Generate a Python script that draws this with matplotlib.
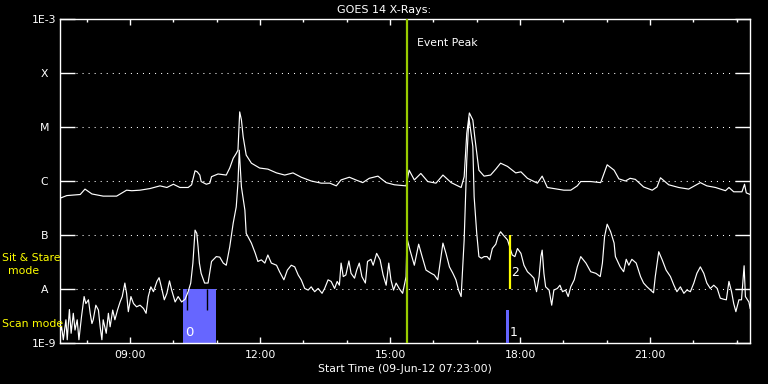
import matplotlib
matplotlib.use("Agg")
import matplotlib.pyplot as plt
import numpy as np
from matplotlib.ticker import NullLocator

# ---------------- data ----------------
t_start = 7 + 23 / 60          # 07:23
t_end = 23.306

# GOES long channel (1-8 A), time in decimal hours, log10 flux (W/m^2)
long_t = [7.38, 7.54, 7.85, 7.96, 8.12, 8.38, 8.69, 8.92, 9.04, 9.23,
          9.46, 9.69, 9.85, 10.00, 10.15, 10.34, 10.42, 10.50, 10.55, 10.61,
          10.64, 10.76, 10.84, 10.88, 11.03, 11.22, 11.30, 11.38, 11.45, 11.49,
          11.53, 11.57, 11.61, 11.68, 11.80, 11.99, 12.18, 12.38, 12.57, 12.76,
          12.95, 13.18, 13.41, 13.61, 13.76, 13.87, 14.06, 14.21, 14.37, 14.52,
          14.72, 14.91, 15.10, 15.37, 15.44, 15.56, 15.71, 15.87, 16.06, 16.22,
          16.41, 16.64, 16.71, 16.77, 16.83, 16.91, 16.96, 17.05, 17.17, 17.32,
          17.44, 17.55, 17.71, 17.90, 18.02, 18.17, 18.40, 18.51, 18.63, 18.78,
          19.01, 19.17, 19.32, 19.40, 19.63, 19.86, 20.01, 20.17, 20.28, 20.43,
          20.54, 20.66, 20.85, 21.05, 21.16, 21.24, 21.43, 21.66, 21.89, 22.16,
          22.31, 22.51, 22.74, 22.82, 22.93, 23.12, 23.18, 23.22, 23.31]
long_log = [-6.32, -6.27, -6.25, -6.15, -6.24, -6.28, -6.28, -6.17, -6.18, -6.17,
            -6.14, -6.09, -6.12, -6.06, -6.12, -6.12, -6.07, -5.81, -5.83, -5.89,
            -6.01, -6.06, -6.04, -5.92, -5.87, -5.89, -5.76, -5.58, -5.49, -5.43,
            -4.72, -4.87, -5.18, -5.52, -5.67, -5.76, -5.78, -5.85, -5.89, -5.85,
            -5.93, -6.00, -6.04, -6.04, -6.09, -5.98, -5.93, -5.98, -6.03, -5.95,
            -5.91, -6.03, -6.07, -6.09, -5.80, -5.98, -5.86, -6.01, -6.04, -5.89,
            -6.03, -6.12, -5.92, -5.12, -4.74, -4.87, -5.22, -5.80, -5.91, -5.89,
            -5.78, -5.67, -5.73, -5.85, -5.83, -5.95, -6.04, -5.91, -6.12, -6.14,
            -6.17, -6.17, -6.09, -6.01, -6.01, -6.03, -5.70, -5.80, -5.96, -6.00,
            -5.95, -5.97, -6.11, -6.17, -6.11, -5.94, -6.07, -6.12, -6.15, -6.03,
            -6.09, -6.12, -6.18, -6.12, -6.20, -6.20, -6.06, -6.22, -6.25]

# GOES short channel (0.5-4 A)
short_t = [7.38, 7.42, 7.46, 7.52, 7.55, 7.60, 7.64, 7.69, 7.73, 7.78,
           7.82, 7.88, 7.94, 7.98, 8.04, 8.08, 8.12, 8.15, 8.21, 8.27,
           8.31, 8.35, 8.38, 8.45, 8.50, 8.54, 8.60, 8.65, 8.71, 8.77,
           8.82, 8.88, 8.92, 8.96, 9.02, 9.08, 9.15, 9.23, 9.31, 9.37,
           9.42, 9.48, 9.54, 9.62, 9.67, 9.73, 9.79, 9.85, 9.91, 9.96,
           10.04, 10.11, 10.19, 10.27, 10.34, 10.40, 10.45, 10.50, 10.54, 10.57,
           10.60, 10.64, 10.72, 10.80, 10.88, 10.99, 11.07, 11.15, 11.22, 11.30,
           11.38, 11.45, 11.49, 11.52, 11.57, 11.65, 11.68, 11.80, 11.89, 11.95,
           12.03, 12.11, 12.18, 12.26, 12.38, 12.45, 12.55, 12.63, 12.72, 12.80,
           12.88, 12.95, 13.03, 13.11, 13.18, 13.26, 13.34, 13.43, 13.49, 13.57,
           13.64, 13.72, 13.78, 13.83, 13.87, 13.92, 13.98, 14.05, 14.10, 14.18,
           14.23, 14.29, 14.35, 14.43, 14.48, 14.56, 14.61, 14.69, 14.77, 14.84,
           14.91, 14.97, 15.02, 15.08, 15.14, 15.21, 15.29, 15.37, 15.39, 15.46,
           15.56, 15.66, 15.74, 15.83, 15.95, 16.02, 16.10, 16.22, 16.29, 16.37,
           16.45, 16.52, 16.58, 16.64, 16.71, 16.77, 16.82, 16.91, 16.94, 17.00,
           17.05, 17.11, 17.17, 17.24, 17.30, 17.36, 17.44, 17.49, 17.55, 17.61,
           17.71, 17.82, 17.88, 17.94, 18.02, 18.09, 18.17, 18.25, 18.32, 18.38,
           18.44, 18.48, 18.51, 18.55, 18.59, 18.67, 18.73, 18.78, 18.86, 18.92,
           18.98, 19.05, 19.11, 19.17, 19.25, 19.32, 19.40, 19.52, 19.63, 19.75,
           19.85, 19.90, 19.95, 20.01, 20.09, 20.17, 20.20, 20.31, 20.39, 20.45,
           20.51, 20.58, 20.68, 20.78, 20.85, 20.93, 21.01, 21.08, 21.12, 21.20,
           21.28, 21.37, 21.47, 21.55, 21.62, 21.70, 21.78, 21.85, 21.93, 22.01,
           22.08, 22.16, 22.24, 22.31, 22.39, 22.47, 22.55, 22.62, 22.70, 22.76,
           22.82, 22.88, 22.93, 22.98, 23.05, 23.11, 23.17, 23.20, 23.28, 23.31]
short_log = [-8.82, -8.70, -8.94, -8.57, -8.94, -8.38, -8.82, -8.45, -8.76, -8.57,
             -8.94, -8.51, -8.14, -8.27, -8.20, -8.45, -8.64, -8.57, -8.30, -8.39,
             -8.70, -8.94, -8.57, -8.82, -8.45, -8.70, -8.39, -8.57, -8.39, -8.24,
             -8.14, -7.89, -8.08, -8.42, -8.14, -8.27, -8.33, -8.30, -8.36, -8.45,
             -8.14, -7.96, -8.05, -7.86, -7.79, -7.99, -8.20, -8.08, -7.85, -8.02,
             -8.24, -8.14, -8.24, -8.19, -8.05, -7.89, -7.52, -6.91, -6.97, -7.22,
             -7.52, -7.71, -7.89, -7.89, -7.49, -7.40, -7.41, -7.52, -7.56, -7.22,
             -6.78, -6.48, -6.04, -5.43, -6.11, -6.54, -6.97, -7.15, -7.34, -7.49,
             -7.46, -7.52, -7.37, -7.52, -7.56, -7.68, -7.83, -7.65, -7.56, -7.59,
             -7.74, -7.83, -7.99, -8.02, -7.96, -8.05, -7.99, -8.08, -7.99, -7.83,
             -7.86, -7.99, -7.86, -7.93, -7.52, -7.77, -7.74, -7.48, -7.71, -7.80,
             -7.65, -7.52, -7.77, -7.89, -7.49, -7.45, -7.56, -7.34, -7.46, -7.74,
             -7.93, -7.52, -7.83, -8.02, -7.89, -7.99, -8.08, -7.77, -7.06, -7.28,
             -7.56, -7.17, -7.40, -7.65, -7.71, -7.74, -7.83, -7.15, -7.34, -7.59,
             -7.71, -7.83, -8.02, -8.14, -7.09, -5.61, -4.83, -5.36, -6.29, -6.97,
             -7.40, -7.43, -7.40, -7.40, -7.46, -7.25, -7.17, -7.03, -6.94, -7.00,
             -7.09, -7.37, -7.40, -7.25, -7.34, -7.56, -7.68, -7.74, -7.80, -8.05,
             -7.77, -7.40, -7.28, -7.71, -7.96, -8.02, -8.30, -8.02, -7.99, -7.93,
             -8.05, -8.02, -8.14, -7.96, -7.83, -7.59, -7.40, -7.52, -7.68, -7.71,
             -7.77, -7.52, -7.03, -6.80, -6.94, -7.15, -7.40, -7.59, -7.68, -7.45,
             -7.56, -7.45, -7.52, -7.77, -7.89, -7.96, -8.02, -8.07, -7.77, -7.31,
             -7.46, -7.65, -7.77, -7.93, -8.05, -7.96, -8.08, -8.02, -8.05, -7.89,
             -7.71, -7.59, -7.71, -7.89, -7.99, -7.93, -7.99, -8.17, -8.19, -8.20,
             -7.86, -8.05, -8.27, -8.42, -8.20, -8.20, -7.57, -8.14, -8.24, -8.36]

level_values = [1e-9, 1e-8, 1e-7, 1e-6, 1e-5, 1e-4, 1e-3]
level_labels = ["1E-9", "A", "B", "C", "M", "X", "1E-3"]
grid_levels = [1e-8, 1e-7, 1e-6, 1e-5, 1e-4]
x_major = [9, 12, 15, 18, 21]
x_major_labels = ["09:00", "12:00", "15:00", "18:00", "21:00"]
x_minor = list(range(8, 24))

event_peak_t = 15.39
scan0_start, scan0_end = 10.22, 10.98
scan0_marks = [10.32, 10.78]
scan1_t = 17.71
stare2_t = 17.77

# ---------------- figure ----------------
W, H = 768, 384
fig = plt.figure(figsize=(W / 100, H / 100), dpi=100, facecolor="black")
ax = fig.add_axes([60 / W, 41 / H, 690 / W, 324 / H])
ax.set_facecolor("black")
ax.set_yscale("log")
ax.set_xlim(t_start, t_end)
ax.set_ylim(1e-9, 1e-3)

for s in ax.spines.values():
    s.set_color("white")
    s.set_linewidth(1.0)

# dotted level lines
ax.hlines(grid_levels, 7.75, 22.95, colors="white", linewidth=0.75,
          linestyles=(0, (1, 4.8)), zorder=1)

# scan-mode block 0
ax.bar(scan0_start, 1e-8 - 1e-9, width=scan0_end - scan0_start, bottom=1e-9,
       align="edge", color="#6666ff", linewidth=0, zorder=2)
ax.vlines(scan0_marks, 1e-8, 10 ** -8.39, colors="black", linewidth=1.0, zorder=3)
ax.text(scan0_start + 0.05, 10 ** -8.8, "0", color="white", fontsize=9.5,
        ha="left", va="center", zorder=4)

# curves
ax.plot(long_t, 10 ** np.array(long_log), color="white", linewidth=0.85, zorder=5)
ax.plot(short_t, 10 ** np.array(short_log), color="white", linewidth=0.85, zorder=5)

# event peak
ax.axvline(event_peak_t, color="#99cc00", linewidth=1.6, zorder=6)
ax.text(event_peak_t + 0.23, 10 ** -3.44, "Event Peak", color="white",
        fontsize=7.8, ha="left", va="center")

# scan 1 / stare 2
ax.bar(scan1_t - 0.03, 1e-9 * (10 ** 0.61) - 1e-9, width=0.06, bottom=1e-9,
       align="edge", color="#6666ff", linewidth=0, zorder=6)
ax.text(scan1_t + 0.05, 10 ** -8.8, "1", color="white", fontsize=9,
        ha="left", va="center", zorder=7)
ax.vlines(stare2_t, 1e-8, 1e-7, colors="yellow", linewidth=1.6, zorder=6)
ax.text(stare2_t + 0.03, 10 ** -7.69, "2", color="white", fontsize=9,
        ha="left", va="center", zorder=7)

# ticks
ax.set_yticks(level_values)
ax.set_yticklabels(level_labels)
ax.yaxis.set_minor_locator(NullLocator())
ax.tick_params(axis="y", which="major", direction="in", length=10.8, width=1.0,
               left=True, right=True, color="white", labelcolor="white",
               labelsize=7.8, pad=11.2)
for lbl in ax.get_yticklabels():
    lbl.set_horizontalalignment("center")

ax.set_xticks(x_major)
ax.set_xticklabels(x_major_labels)
ax.set_xticks(x_minor, minor=True)
ax.tick_params(axis="x", which="major", direction="in", length=4.3, width=1.0,
               top=True, bottom=True, color="white", labelcolor="white",
               labelsize=7.8, pad=5)
ax.tick_params(axis="x", which="minor", direction="in", length=2.2, width=1.0,
               top=True, bottom=True, color="white")

# titles & side labels
fig.text(0.5, 1 - 10 / H, "GOES 14 X-Rays:", color="white", fontsize=8,
         ha="center", va="center")
fig.text(404.5 / W, 1 - 369 / H, "Start Time (09-Jun-12 07:23:00)", color="white",
         fontsize=7.8, ha="center", va="center")
fig.text(2 / W, 1 - 258 / H, "Sit & Stare", color="yellow", fontsize=7.8,
         ha="left", va="center")
fig.text(24 / W, 1 - 271 / H, "mode", color="yellow", fontsize=7.8,
         ha="center", va="center")
fig.text(2 / W, 1 - 324 / H, "Scan mode", color="yellow", fontsize=7.8,
         ha="left", va="center")

fig.savefig("out.png", dpi=100, facecolor="black")
